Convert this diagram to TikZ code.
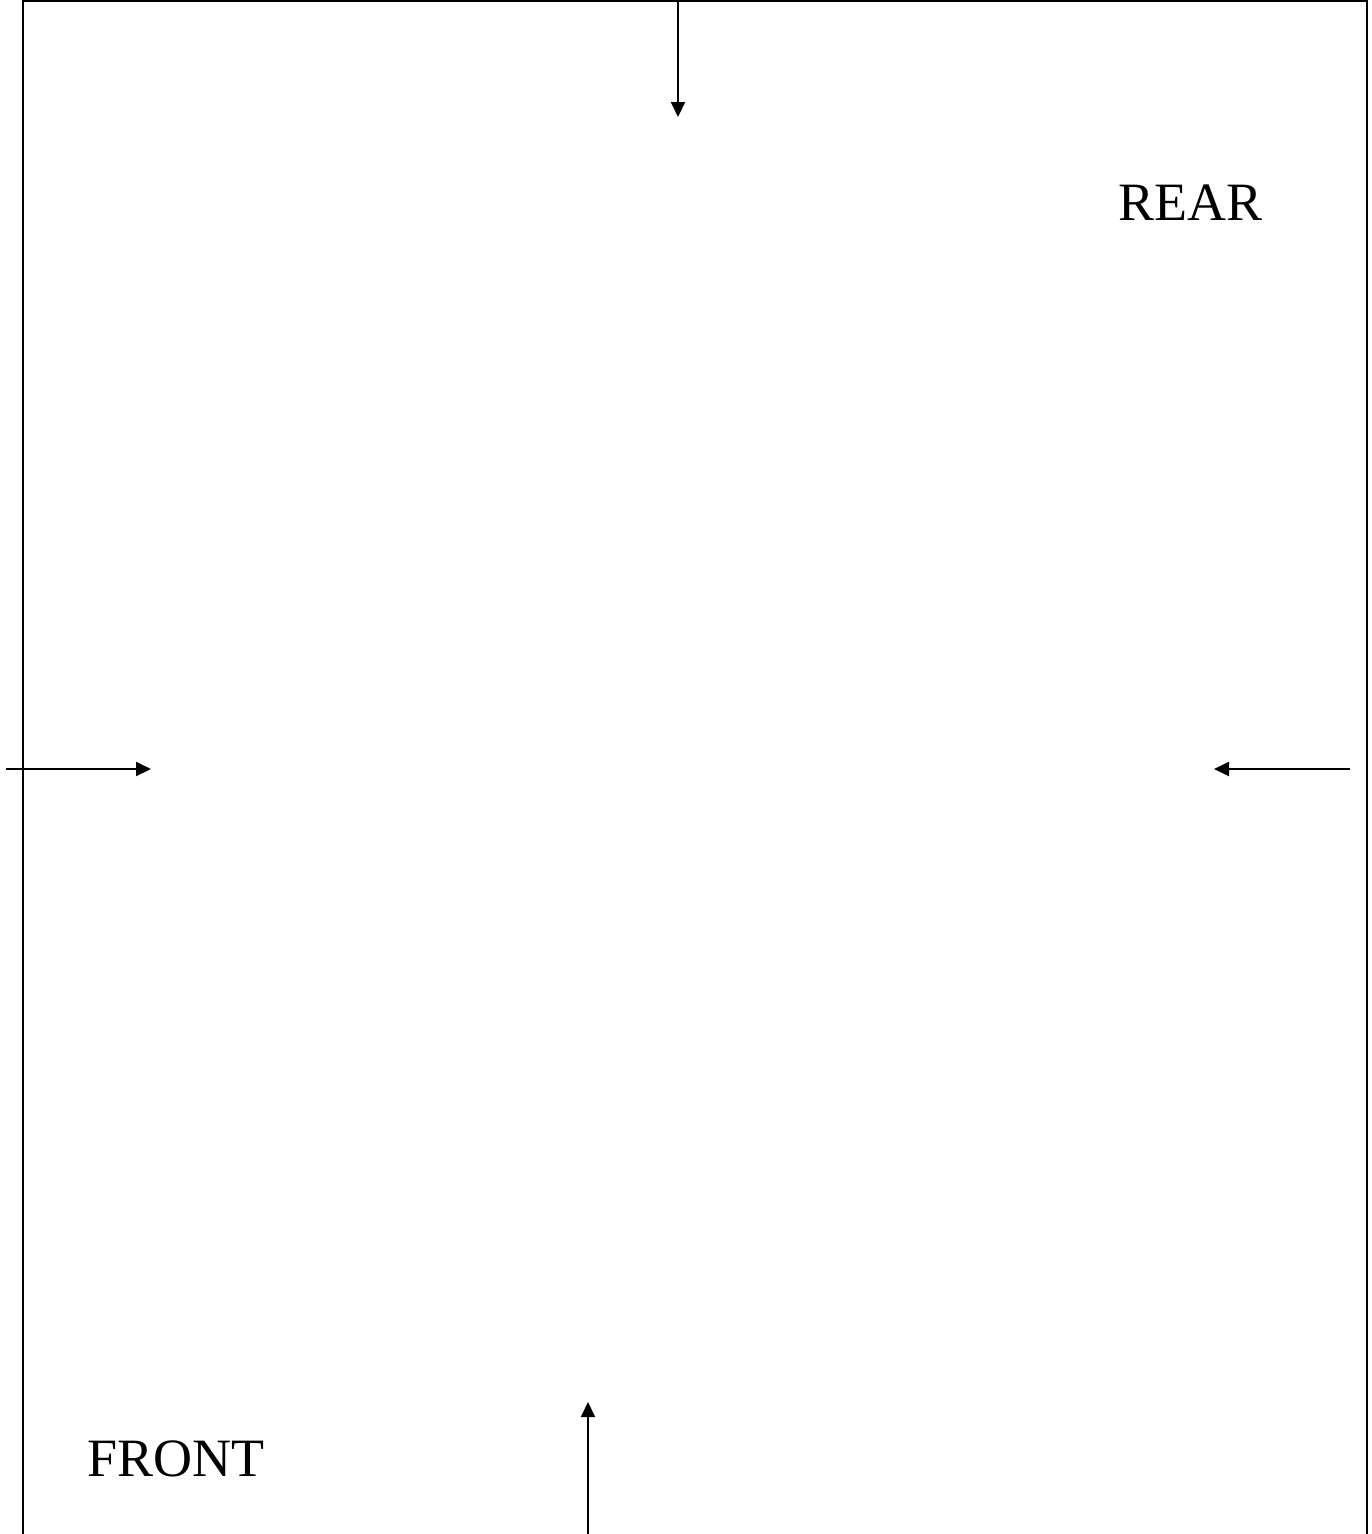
\documentclass[tikz,border=0pt]{standalone}
\usepackage{fontspec}
\setmainfont{Liberation Serif}
\usetikzlibrary{arrows.meta}
\begin{document}
\begin{tikzpicture}[x=1pt,y=-1pt,
  frame/.style={line width=2.2pt},
  marker/.style={line width=2pt,-{Triangle[length=15pt,width=14pt]}},
  label/.style={font=\fontsize{54}{60}\selectfont,anchor=base,inner sep=0pt}]
\useasboundingbox (0,0) rectangle (1372,1534);
\draw[frame] (23,1540) -- (23,1) -- (1367,1) -- (1367,1540);
\node[label] (rear) at (1190,220) {REAR};
\node[label] (front) at (176,1476) {FRONT};
\coordinate (topS) at (678,0);
\coordinate (topE) at (678,117);
\coordinate (leftS) at (6,769);
\coordinate (leftE) at (151,769);
\coordinate (rightS) at (1350,769);
\coordinate (rightE) at (1214,769);
\coordinate (botS) at (588,1534);
\coordinate (botE) at (588,1402);
\draw[marker] (topS) -- (topE);
\draw[marker] (leftS) -- (leftE);
\draw[marker] (rightS) -- (rightE);
\draw[marker] (botS) -- (botE);
\end{tikzpicture}
\end{document}
